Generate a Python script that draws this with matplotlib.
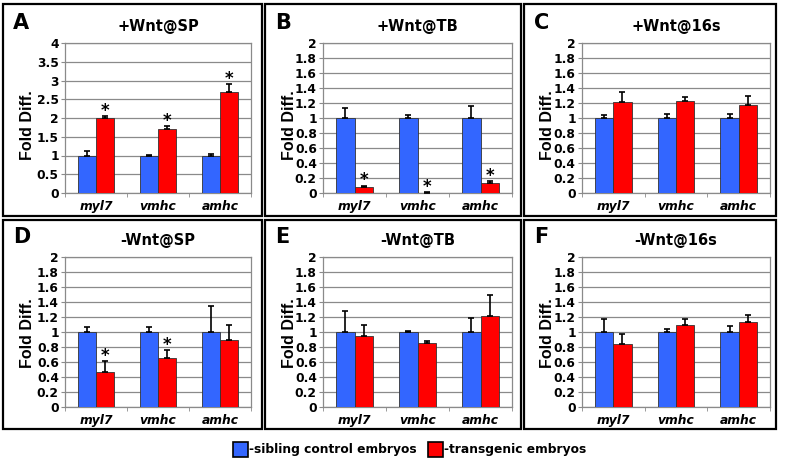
import matplotlib
matplotlib.use('Agg')
from matplotlib import pyplot as plt
from matplotlib.patches import Rectangle
import numpy as np

W, H = 785, 466

genes = ['myl7', 'vmhc', 'amhc']
letters = ['A', 'B', 'C', 'D', 'E', 'F']
titles = ['+Wnt@SP', '+Wnt@TB', '+Wnt@16s', '-Wnt@SP', '-Wnt@TB', '-Wnt@16s']
ymaxes = [4, 2, 2, 2, 2, 2]
ysteps = [0.5, 0.2, 0.2, 0.2, 0.2, 0.2]

# control (sibling) values and errors, transgenic values and errors, significance
ctrl = [[1, 1, 1], [1, 1, 1], [1, 1, 1], [1, 1, 1], [1, 1, 1], [1, 1, 1]]
ctrl_err = [[0.13, 0.01, 0.05],
            [0.13, 0.04, 0.16],
            [0.04, 0.06, 0.06],
            [0.07, 0.07, 0.35],
            [0.28, 0.02, 0.19],
            [0.17, 0.035, 0.08]]
tg = [[1.99, 1.72, 2.69],
      [0.08, 0.005, 0.13],
      [1.22, 1.23, 1.17],
      [0.47, 0.65, 0.89],
      [0.95, 0.85, 1.21],
      [0.845, 1.10, 1.13]]
tg_err = [[0.06, 0.06, 0.21],
          [0.02, 0.005, 0.025],
          [0.13, 0.05, 0.12],
          [0.15, 0.105, 0.20],
          [0.15, 0.025, 0.29],
          [0.135, 0.07, 0.10]]
sig = [[1, 1, 1], [1, 1, 1], [0, 0, 0], [1, 1, 0], [0, 0, 0], [0, 0, 0]]

legend_labels = ['-sibling control embryos', '-transgenic embryos']
blue = '#3366ff'
red = '#ff0000'
grey = '#8a8a8a'

fig = plt.figure(figsize=(W / 100, H / 100), dpi=100)

def fx(x):
    return x / W

def fy(y):
    return 1 - y / H

# pixel layout of the panels
box_x = [(3, 262), (265, 521), (524, 776)]
box_y = [(4, 216), (220, 429)]
ax_x = [(65, 251), (323, 512), (582, 770)]
ax_y = [(43, 193), (257, 407)]
ylab_x = [27, 289, 548]
ylab_y = [125, 333]
head_y = [23, 237]

for k in range(6):
    r, c = divmod(k, 3)
    # outer box
    x0, x1 = box_x[c]
    y0, y1 = box_y[r]
    fig.patches.append(Rectangle((fx(x0), fy(y1)), fx(x1 - x0), (y1 - y0) / H,
                                 transform=fig.transFigure, fill=False,
                                 edgecolor='black', linewidth=1.6))
    l, rr = ax_x[c]
    t, b = ax_y[r]
    ax = fig.add_axes([fx(l), fy(b), fx(rr - l), (b - t) / H])
    x = np.arange(len(genes))
    w = 0.29
    ax.bar(x - w / 2, ctrl[k], w, color=blue, edgecolor='#333333', linewidth=0.6, zorder=3)
    ax.bar(x + w / 2, tg[k], w, color=red, edgecolor='#333333', linewidth=0.6, zorder=3)
    ax.errorbar(x - w / 2, ctrl[k], yerr=[np.zeros(3), ctrl_err[k]], fmt='none',
                ecolor='black', elinewidth=1.2, capsize=2.5, capthick=1.2, zorder=4)
    ax.errorbar(x + w / 2, tg[k], yerr=[np.zeros(3), tg_err[k]], fmt='none',
                ecolor='black', elinewidth=1.2, capsize=2.5, capthick=1.2, zorder=4)
    for i in range(3):
        if sig[k][i]:
            ax.annotate('*', (x[i] + w / 2, tg[k][i] + tg_err[k][i]),
                        xytext=(0, 0), textcoords='offset points',
                        ha='center', va='baseline', fontsize=12, fontweight='bold')
    ax.set_xlim(-0.5, 2.5)
    ax.set_ylim(0, ymaxes[k])
    yt = np.arange(0, ymaxes[k] + 1e-6, ysteps[k])
    ax.set_yticks(yt)
    ax.set_yticklabels(['%g' % v for v in yt])
    ax.grid(axis='y', color=grey, linewidth=0.9, zorder=0)
    ax.set_xticks(x)
    ax.set_xticklabels(genes, fontstyle='italic', fontweight='bold', fontsize=8.8)
    ax.set_xticks([-0.5, 0.5, 1.5, 2.5], minor=True)
    ax.tick_params(axis='x', which='major', length=0, pad=5)
    ax.tick_params(axis='x', which='minor', length=3, color=grey, direction='out')
    ax.tick_params(axis='y', length=3, color=grey, pad=1.5, labelsize=8.8)
    for lab in ax.get_yticklabels():
        lab.set_fontweight('bold')
    for s in ax.spines.values():
        s.set_color(grey)
        s.set_linewidth(0.9)
    # labels around the axes
    fig.text(fx(x0 + 10), fy(head_y[r]), letters[k], fontsize=15, fontweight='bold',
             ha='left', va='center')
    fig.text(fx((l + rr) / 2), fy(head_y[r] + 4), titles[k], fontsize=10.5,
             fontweight='bold', ha='center', va='center')
    fig.text(fx(ylab_x[c]), fy(ylab_y[r]), 'Fold Diff.', rotation=90, fontsize=11.5,
             fontweight='bold', ha='center', va='center',
             family=['Liberation Sans Narrow', 'Liberation Sans', 'DejaVu Sans'])

# legend
for sx, col, lab in [(233, blue, legend_labels[0]), (428, red, legend_labels[1])]:
    fig.patches.append(Rectangle((fx(sx), fy(457)), fx(15), 15 / H,
                                 transform=fig.transFigure, facecolor=col,
                                 edgecolor='black', linewidth=1.2))
    fig.text(fx(sx + 16), fy(450), lab, fontsize=8.8, fontweight='bold',
             ha='left', va='center')

fig.savefig('out.png', dpi=100)
